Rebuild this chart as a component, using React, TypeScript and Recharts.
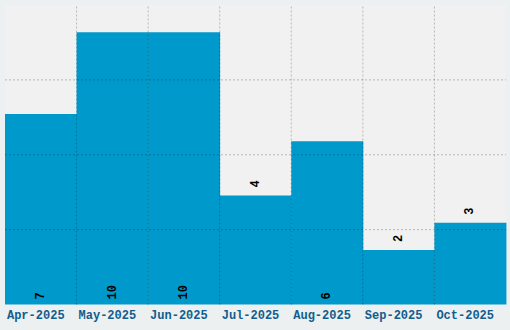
import React from 'react';
import { BarChart, Bar, XAxis, YAxis, ReferenceLine, LabelList, CartesianGrid } from 'recharts';

const months = ['Apr-2025', 'May-2025', 'Jun-2025', 'Jul-2025', 'Aug-2025', 'Sep-2025', 'Oct-2025'];
const counts = [7, 10, 10, 4, 6, 2, 3];
const yTicks = [2.75, 5.5, 8.25];
const boundaryTicks = [1, 2, 3, 4, 5, 6];

const data = months.map((m, i) => ({ month: m, count: counts[i], idx: i + 0.5 }));

const FONT = '"Liberation Mono", monospace';

const renderLabel = (props: any) => {
  const { x, y, width, height, value } = props;
  const cx = Number(x) + Number(width) / 2;
  const inside = Number(value) >= 5;
  const ty = inside ? Number(y) + Number(height) - 5 : Number(y) - 8;
  return (
    <text
      x={cx}
      y={ty}
      transform={`rotate(-90 ${cx} ${ty})`}
      textAnchor="start"
      dominantBaseline="central"
      fontFamily={FONT}
      fontWeight="bold"
      fontSize={12}
      fill="#000"
    >
      {value}
    </text>
  );
};

const gridStroke = 'rgba(0,0,0,0.24)';

export default function App() {
  return (
    <div style={{ position: 'fixed', left: 0, top: 0, width: 510, height: 330, background: '#ecf0f1' }}>
      <BarChart
        width={510}
        height={330}
        data={data}
        margin={{ top: 5, right: 4, bottom: 0, left: 5 }}
        barCategoryGap={0}
      >
        <CartesianGrid fill="#f1f1f1" horizontal={false} vertical={false} stroke="none" />
        <XAxis
          dataKey="month"
          height={25.5}
          axisLine={false}
          tickLine={false}
          tickSize={0}
          tickMargin={6}
          interval={0}
          tick={{ fill: '#125d8d', fontSize: 12, fontFamily: FONT, fontWeight: 'bold', dx: -5 }}
        />
        <XAxis xAxisId="grid" type="number" dataKey="idx" domain={[0, 7]} ticks={boundaryTicks} hide />
        <YAxis domain={[0, 11]} ticks={yTicks} hide />
        <Bar dataKey="count" fill="#0099cc" isAnimationActive={false}>
          <LabelList dataKey="count" content={renderLabel} />
        </Bar>
        {yTicks.map((v) => (
          <ReferenceLine key={'h' + v} y={v} stroke={gridStroke} strokeDasharray="2 2" />
        ))}
        {boundaryTicks.map((v) => (
          <ReferenceLine key={'v' + v} x={v} xAxisId="grid" stroke={gridStroke} strokeDasharray="2 2" />
        ))}
      </BarChart>
    </div>
  );
}
